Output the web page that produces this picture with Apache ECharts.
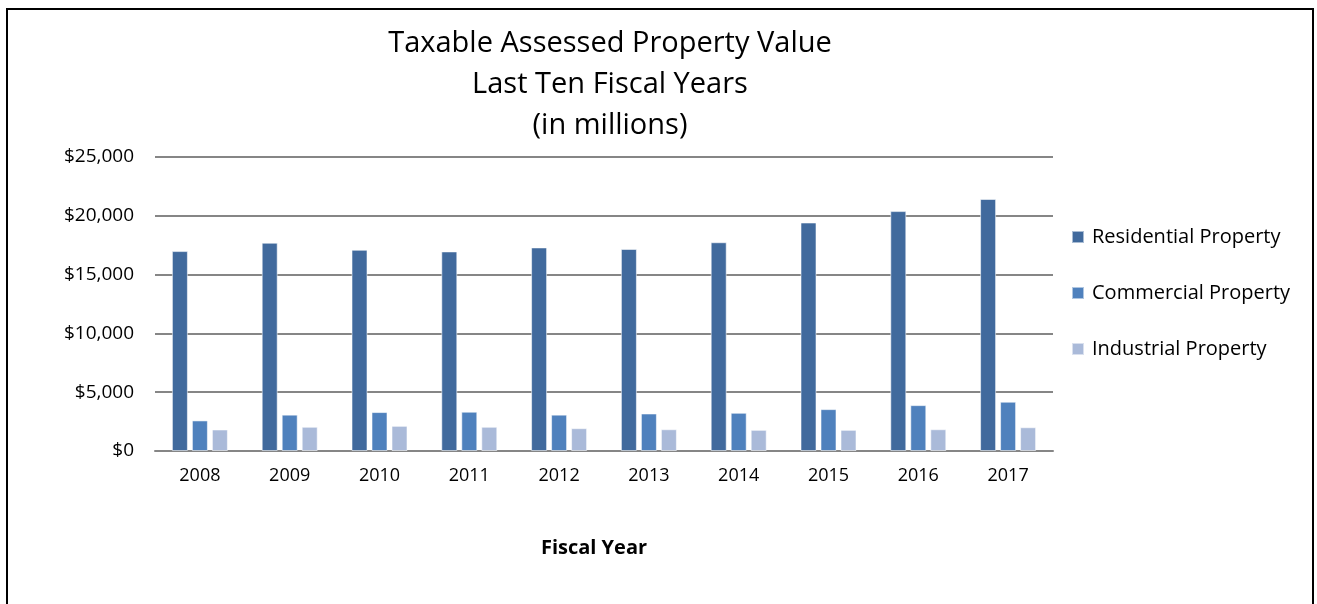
<!DOCTYPE html>
<html>
<head>
<meta charset="utf-8">
<script src="https://cdn.jsdelivr.net/npm/echarts@6/dist/echarts.min.js"></script>
<style>
  html, body { margin: 0; padding: 0; background: #fff; }
  #chart { width: 1317px; height: 604px; }
</style>
</head>
<body>
<div id="chart"></div>
<script>
// Fiscal years on the category axis
const years = ['2008', '2009', '2010', '2011', '2012', '2013', '2014', '2015', '2016', '2017'];

// Taxable assessed value by property class, in millions of dollars
const residential = [17000, 17710, 17110, 16970, 17310, 17180, 17750, 19430, 20400, 21430];
const commercial  = [2600, 3090, 3310, 3340, 3090, 3190, 3250, 3560, 3900, 4190];
const industrial  = [1830, 2060, 2140, 2060, 1940, 1850, 1800, 1800, 1850, 2020];

// Value axis ticks
const yTicks = [0, 5000, 10000, 15000, 20000, 25000];

const titleLines = ['Taxable Assessed Property Value', 'Last Ten Fiscal Years', '(in millions)'];

const FONT = '"Open Sans", "Noto Sans", sans-serif';

const chart = echarts.init(document.getElementById('chart'));

function money(v) {
  return '$' + v.toString().replace(/\B(?=(\d{3})+(?!\d))/g, ',');
}

const barBorder = { borderColor: 'rgba(255,255,255,0.55)', borderWidth: 1 };

chart.setOption({
  backgroundColor: '#ffffff',
  animation: false,
  textStyle: { fontFamily: FONT },
  grid: { left: 155, right: 264, top: 157, bottom: 153, containLabel: false },
  legend: {
    orient: 'vertical',
    left: 1071,
    top: 225,
    padding: 0,
    itemWidth: 12,
    itemHeight: 12,
    itemGap: 32,
    icon: 'rect',
    textStyle: { fontSize: 20, color: '#000', fontFamily: FONT, lineHeight: 24, padding: [0, 0, 0, 3] },
    data: ['Residential Property', 'Commercial Property', 'Industrial Property']
  },
  xAxis: {
    type: 'category',
    data: years,
    axisLine: { show: true, lineStyle: { color: '#868686', width: 2 } },
    axisTick: { show: false },
    axisLabel: { color: '#000', fontSize: 18, margin: 16, fontFamily: FONT }
  },
  yAxis: {
    type: 'value',
    min: yTicks[0],
    max: yTicks[yTicks.length - 1],
    interval: yTicks[1] - yTicks[0],
    axisLine: { show: false },
    axisTick: { show: false },
    splitLine: { lineStyle: { color: '#868686', width: 2 } },
    axisLabel: { color: '#000', fontSize: 19, margin: 21, fontFamily: FONT, formatter: money }
  },
  series: [
    {
      name: 'Residential Property', type: 'bar', data: residential,
      barWidth: 16, barGap: '25%',
      itemStyle: Object.assign({ color: '#416a9d' }, barBorder)
    },
    {
      name: 'Commercial Property', type: 'bar', data: commercial,
      barWidth: 16, barGap: '25%',
      itemStyle: Object.assign({ color: '#4f81bd' }, barBorder)
    },
    {
      name: 'Industrial Property', type: 'bar', data: industrial,
      barWidth: 16, barGap: '25%',
      itemStyle: Object.assign({ color: '#aabad9' }, barBorder)
    }
  ],
  graphic: [
    {
      type: 'rect',
      shape: { x: 7, y: 9, width: 1306, height: 640 },
      style: { fill: 'none', stroke: '#000', lineWidth: 2 },
      silent: true, z: 100
    },
    ...titleLines.map((t, i) => ({
      type: 'text',
      x: 610, y: 44 + i * 41,
      style: {
        text: t, fill: '#000', fontSize: 29, fontFamily: FONT,
        textAlign: 'center', textVerticalAlign: 'middle'
      }
    })),
    {
      type: 'text',
      x: 594, y: 548,
      style: {
        text: 'Fiscal Year', fill: '#000', fontSize: 20, fontWeight: 'bold', fontFamily: FONT,
        textAlign: 'center', textVerticalAlign: 'middle'
      }
    }
  ]
});
</script>
</body>
</html>
